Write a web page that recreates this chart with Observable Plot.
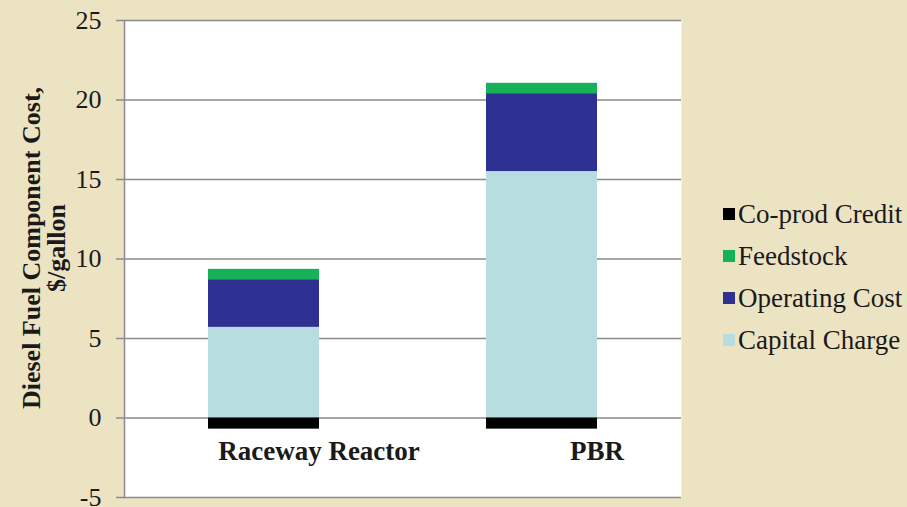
<!DOCTYPE html>
<html>
<head>
<meta charset="utf-8">
<script src="https://cdn.jsdelivr.net/npm/d3@7"></script>
<script src="https://cdn.jsdelivr.net/npm/@observablehq/plot@0.6"></script>
<style>
  html, body { margin: 0; padding: 0; background: #ECE3C3; }
  #wrap { position: relative; width: 907px; height: 507px; overflow: hidden; background: #ECE3C3; font-family: "Liberation Serif", "Times New Roman", serif; }
  #ylabel { position: absolute; left: 44px; top: 248px; transform: translate(-50%, -50%) rotate(-90deg); white-space: nowrap; text-align: center; font-family: "Liberation Serif", serif; font-weight: bold; font-size: 26px; line-height: 25px; color: #1a1a1a; }
  #legend { position: absolute; left: 723px; top: 193px; }
  .row { display: flex; align-items: center; height: 42px; font-family: "Liberation Serif", serif; font-size: 27px; color: #1a1a1a; }
  .sw { width: 12px; height: 12px; margin-right: 3px; flex: none; }
</style>
</head>
<body>
<div id="wrap">
  <div id="chart"></div>
  <div id="ylabel">Diesel Fuel Component Cost,<br>$/gallon</div>
  <div id="legend"></div>
</div>
<script>
const categories = ["Raceway Reactor", "PBR"];
const seriesNames = ["Capital Charge", "Operating Cost", "Feedstock", "Co-prod Credit"];
const capitalCharge = [5.7, 15.5];
const operatingCost = [3.0, 4.9];
const feedstock = [0.65, 0.65];
const coprodCredit = [-0.7, -0.7];
const yTicks = [-5, 0, 5, 10, 15, 20, 25];
const colors = ["#B8DDE0", "#2E3192", "#17B15A", "#000000"];
const legendOrder = ["Co-prod Credit", "Feedstock", "Operating Cost", "Capital Charge"];

const seriesValues = [capitalCharge, operatingCost, feedstock, coprodCredit];
const data = [];
seriesValues.forEach((vals, si) => {
  categories.forEach((c, ci) => data.push({category: c, series: seriesNames[si], value: vals[ci]}));
});

const chart = Plot.plot({
  width: 907,
  height: 507,
  marginLeft: 124,
  marginRight: 226,
  marginTop: 20,
  marginBottom: 10,
  style: {background: "transparent", fontFamily: "Liberation Serif, Times New Roman, serif", color: "#1a1a1a"},
  x: {domain: categories, paddingInner: 0.6, paddingOuter: 0.3, axis: null},
  y: {domain: [-5, 25], axis: null},
  color: {domain: seriesNames, range: colors},
  marks: [
    Plot.frame({fill: "white", stroke: null}),
    Plot.gridY(yTicks, {stroke: "#8a8a8a", strokeOpacity: 1, strokeWidth: 1.5}),
    Plot.axisY({ticks: yTicks, tickFormat: d => String(d), tickSize: 8, tickPadding: 15, fontSize: 26, stroke: "#8a8a8a", strokeWidth: 1.5, label: null}),
    Plot.frame({anchor: "left", stroke: "#8a8a8a", strokeWidth: 1.5}),
    Plot.barY(data, {x: "category", y: "value", fill: "series", order: seriesNames}),
    Plot.axisX({tickSize: 0, fontSize: 27, fontWeight: "bold", anchor: "bottom", dy: -66, dx: 55, label: null, textAnchor: "middle"})
  ]
});
document.getElementById("chart").appendChild(chart);

const legend = document.getElementById("legend");
legendOrder.forEach(name => {
  const row = document.createElement("div");
  row.className = "row";
  const sw = document.createElement("div");
  sw.className = "sw";
  sw.style.background = colors[seriesNames.indexOf(name)];
  const t = document.createElement("span");
  t.textContent = name;
  row.appendChild(sw);
  row.appendChild(t);
  legend.appendChild(row);
});
</script>
</body>
</html>
